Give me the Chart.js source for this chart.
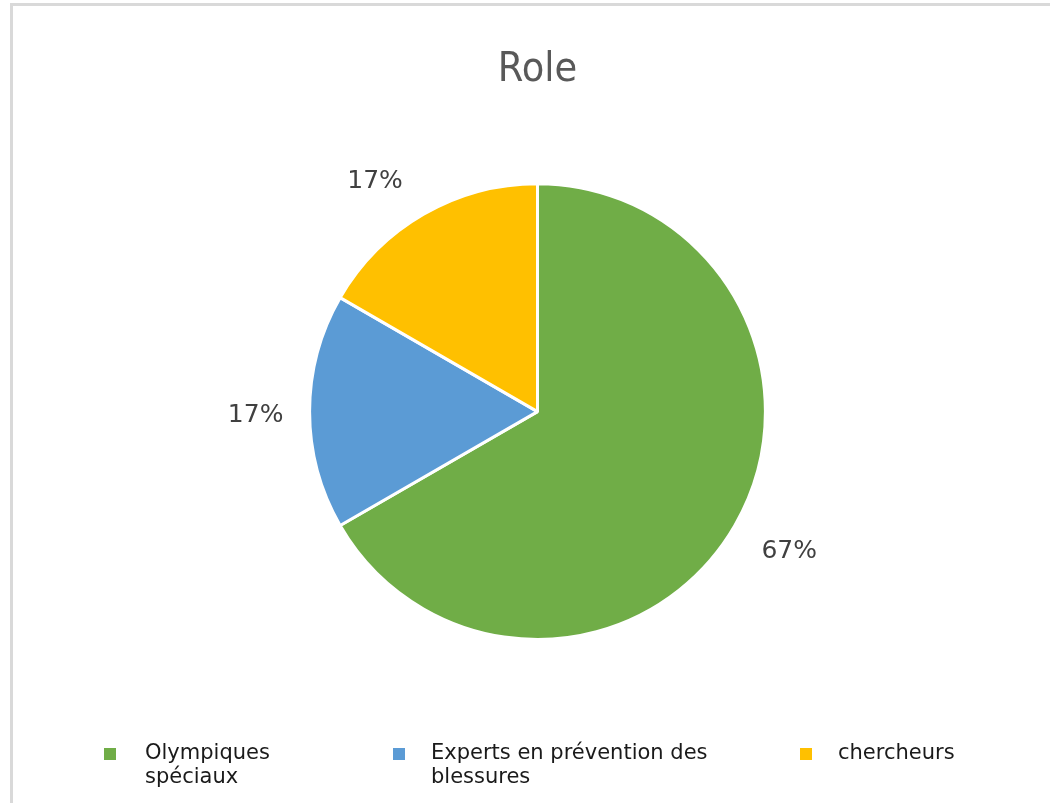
<!DOCTYPE html>
<html>
<head>
<meta charset="utf-8">
<script src="https://cdn.jsdelivr.net/npm/chart.js@4.4.1/dist/chart.umd.min.js"></script>
<style>
  html, body { margin: 0; padding: 0; width: 1050px; height: 803px; overflow: hidden; background: #fff; }
  #frame { position: absolute; left: 10px; top: 3px; width: 1200px; height: 1000px;
           border-left: 3px solid #d9d9d9; border-top: 3px solid #d9d9d9; box-sizing: border-box; }
  #wrap { position: absolute; left: 0; top: 0; width: 1050px; height: 803px; }
</style>
</head>
<body>
<div id="frame"></div>
<div id="wrap"><canvas id="c" width="1050" height="803"></canvas></div>
<script>
const titleText = "Role";
const categories = ["Olympiques spéciaux", "Experts en prévention des blessures", "chercheurs"];
const legendLines = [["Olympiques", "spéciaux"], ["Experts en prévention des", "blessures"], ["chercheurs"]];
const values = [4, 1, 1];
const colors = ["#70AD47", "#5B9BD5", "#FFC000"];

const labelPlugin = {
  id: 'outsideLabels',
  afterDatasetsDraw(chart) {
    const ctx = chart.ctx;
    const meta = chart.getDatasetMeta(0);
    const data = chart.data.datasets[0].data;
    const total = data.reduce((a, b) => a + b, 0);
    // small best-fit style nudges of each label, in pixels
    const nudge = [[5, -3], [3, 4], [-20, 17]];
    ctx.save();
    ctx.font = '25px "DejaVu Sans", Verdana, sans-serif';
    ctx.fillStyle = '#404040';
    ctx.textAlign = 'center';
    ctx.textBaseline = 'middle';
    meta.data.forEach((arc, i) => {
      const p = arc.getProps(['x', 'y', 'startAngle', 'endAngle', 'outerRadius'], true);
      const mid = (p.startAngle + p.endAngle) / 2;
      const r = p.outerRadius * 1.25;
      const pct = Math.round(data[i] / total * 100) + '%';
      const n = nudge[i] || [0, 0];
      ctx.fillText(pct, p.x + Math.cos(mid) * r + n[0], p.y + Math.sin(mid) * r + n[1]);
    });
    ctx.restore();
  }
};

const legendPlugin = {
  id: 'wrappedLegend',
  afterDraw(chart) {
    const ctx = chart.ctx;
    const markerX = [104, 393, 800];
    const textX = [145, 431, 838];
    const y0 = 754, lh = 24;
    ctx.save();
    ctx.font = '21px "DejaVu Sans", Verdana, sans-serif';
    ctx.textAlign = 'left';
    ctx.textBaseline = 'middle';
    legendLines.forEach((lines, i) => {
      ctx.fillStyle = colors[i];
      ctx.fillRect(markerX[i], 748, 12, 12);
      ctx.fillStyle = '#1a1a1a';
      lines.forEach((t, j) => ctx.fillText(t, textX[i], y0 + j * lh));
    });
    ctx.restore();
  }
};

new Chart(document.getElementById('c'), {
  type: 'pie',
  data: {
    labels: categories,
    datasets: [{
      data: values,
      backgroundColor: colors,
      borderColor: '#ffffff',
      borderWidth: 3
    }]
  },
  options: {
    responsive: false,
    animation: false,
    layout: { padding: { left: 308, right: 283, top: 0, bottom: 162 } },
    plugins: {
      legend: { display: false },
      tooltip: { enabled: false },
      title: {
        display: true,
        text: titleText,
        color: '#595959',
        font: { family: '"DejaVu Sans Condensed", "Liberation Sans Narrow", sans-serif', size: 41, weight: 'normal', lineHeight: 1.2 },
        padding: { top: 46, bottom: 87 }
      }
    }
  },
  plugins: [labelPlugin, legendPlugin]
});
</script>
</body>
</html>
